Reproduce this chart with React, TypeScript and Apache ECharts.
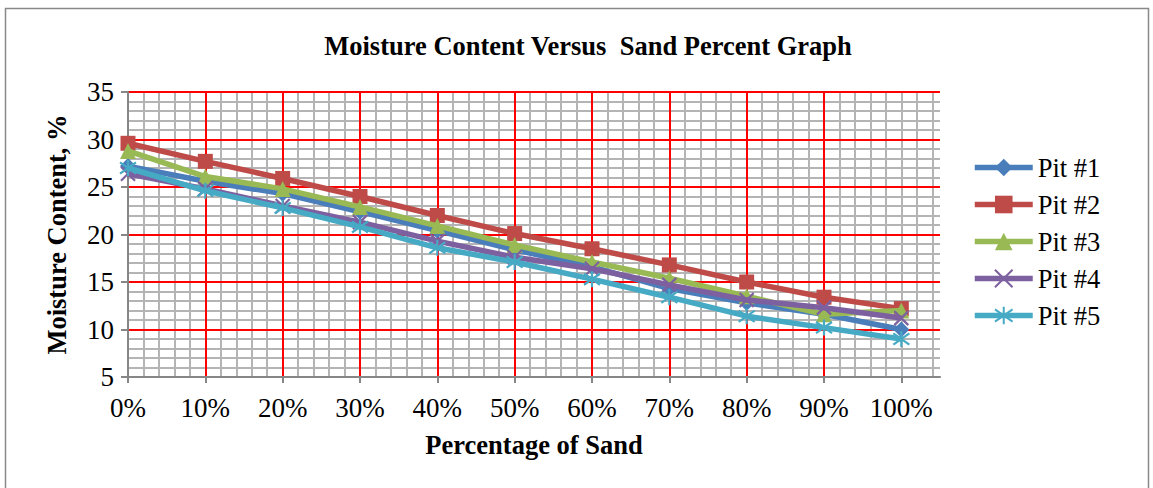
import React, { useEffect, useRef } from "react";
import * as echarts from "echarts";

const sandPercent = [0, 10, 20, 30, 40, 50, 60, 70, 80, 90, 100];
const pit1 = [27.2, 25.6, 24.3, 22.4, 20.4, 18.4, 16.6, 14.3, 12.8, 11.6, 10.0];
const pit2 = [29.6, 27.7, 25.9, 24.0, 22.0, 20.1, 18.5, 16.8, 15.0, 13.4, 12.2];
const pit3 = [28.8, 26.1, 24.8, 22.9, 20.9, 18.9, 17.1, 15.4, 13.5, 11.6, 12.0];
const pit4 = [26.4, 24.8, 23.0, 21.3, 19.3, 17.6, 16.4, 14.7, 13.1, 12.3, 11.2];
const pit5 = [27.0, 24.6, 22.8, 20.8, 18.6, 17.1, 15.3, 13.4, 11.4, 10.2, 9.0];
const seriesNames = ["Pit #1", "Pit #2", "Pit #3", "Pit #4", "Pit #5"];
const xTicks = [0, 10, 20, 30, 40, 50, 60, 70, 80, 90, 100];

const FONT = "Liberation Serif";

const colors = ["#4A7EBB", "#BE4B48", "#98B954", "#7D60A0", "#46AAC5"];
const symbols = [
  "diamond",
  "rect",
  "triangle",
  "path://M0,0L10,10M10,0L0,10",
  "path://M5,0L5,10M0,1.5L10,8.5M0,8.5L10,1.5",
];
const symbolSizes = [16, 15, 16, 14, 16];

export default function App() {
  const ref = useRef<HTMLDivElement>(null);
  useEffect(() => {
    if (!ref.current) return;
    const chart = echarts.init(ref.current, null, { renderer: "svg" });
    const datasets = [pit1, pit2, pit3, pit4, pit5];
    const series = datasets.map((d, i) => ({
      name: seriesNames[i],
      type: "line",
      xAxisIndex: 1,
      yAxisIndex: 1,
      data: d.map((v, j) => [sandPercent[j], v]),
      color: colors[i],
      symbol: symbols[i],
      symbolSize: symbolSizes[i],
      lineStyle: { width: 5.5, color: colors[i] },
      itemStyle: {
        color: i >= 3 ? "none" : colors[i],
        borderColor: colors[i],
        borderWidth: i >= 3 ? 2.2 : 0,
      },
      z: 2 + i,
    }));
    chart.setOption({
      animation: false,
      backgroundColor: "#ffffff",
      title: {
        text: "Moisture Content Versus  Sand Percent Graph",
        left: 583,
        top: 27,
        textAlign: "center",
        textStyle: { fontFamily: FONT, fontSize: 26.5, fontWeight: "bold", color: "#000" },
      },
      legend: {
        orient: "vertical",
        left: 967,
        top: 149,
        itemWidth: 58,
        itemHeight: 22,
        itemGap: 10,
        data: seriesNames,
        lineStyle: { width: 5.5 },
        textStyle: { fontFamily: FONT, fontSize: 26.5, color: "#000" },
      },
      grid: { left: 128, right: 213, top: 92, bottom: 111, containLabel: false },
      xAxis: [
        {
          type: "value",
          position: "top",
          min: 0,
          max: 105,
          interval: 2,
          z: 0,
          axisLine: { show: false },
          axisTick: { show: false },
          axisLabel: { show: false },
          splitLine: { show: true, showMaxLine: false, lineStyle: { color: "#B4B4B4", width: 2 } },
        },
        {
          type: "value",
          position: "bottom",
          min: 0,
          max: 105,
          interval: 10,
          z: 1,
          name: "Percentage of Sand",
          nameLocation: "middle",
          nameGap: 54,
          nameTextStyle: { fontFamily: FONT, fontSize: 26.5, fontWeight: "bold", color: "#000" },
          axisLine: { show: true, lineStyle: { color: "#868686", width: 2 } },
          axisTick: { show: true, length: 6, customValues: xTicks, lineStyle: { color: "#868686", width: 2 } },
          axisLabel: {
            customValues: xTicks,
            formatter: (v: number) => (v > 100 ? "" : v + "%"),
            fontFamily: FONT,
            fontSize: 27,
            color: "#000",
            margin: 17,
          },
          splitLine: { show: true, showMaxLine: false, lineStyle: { color: "#FF0000", width: 2 } },
        },
      ],
      yAxis: [
        {
          type: "value",
          position: "right",
          min: 5,
          max: 35,
          interval: 1,
          z: 0,
          axisLine: { show: false },
          axisTick: { show: false },
          axisLabel: { show: false },
          splitLine: { show: true, lineStyle: { color: "#B4B4B4", width: 2 } },
        },
        {
          type: "value",
          position: "left",
          min: 5,
          max: 35,
          interval: 5,
          z: 1,
          name: "Moisture Content, %",
          nameLocation: "middle",
          nameGap: 58,
          nameTextStyle: { fontFamily: FONT, fontSize: 26.5, fontWeight: "bold", color: "#000" },
          axisLine: { show: true, lineStyle: { color: "#868686", width: 2 } },
          axisTick: { show: true, length: 7, lineStyle: { color: "#868686", width: 2 } },
          axisLabel: { fontFamily: FONT, fontSize: 27, color: "#000", margin: 14 },
          splitLine: { show: true, lineStyle: { color: "#FF0000", width: 2 } },
        },
      ],
      graphic: [
        {
          type: "rect",
          shape: { x: 5.5, y: 8.5, width: 1143, height: 520 },
          style: { fill: "none", stroke: "#898989", lineWidth: 1.5 },
          silent: true,
          z: -1,
        },
      ],
      series,
    });
    return () => chart.dispose();
  }, []);
  return (
    <div
      ref={ref}
      style={{ position: "absolute", left: 0, top: 0, width: 1153, height: 488 }}
    />
  );
}
